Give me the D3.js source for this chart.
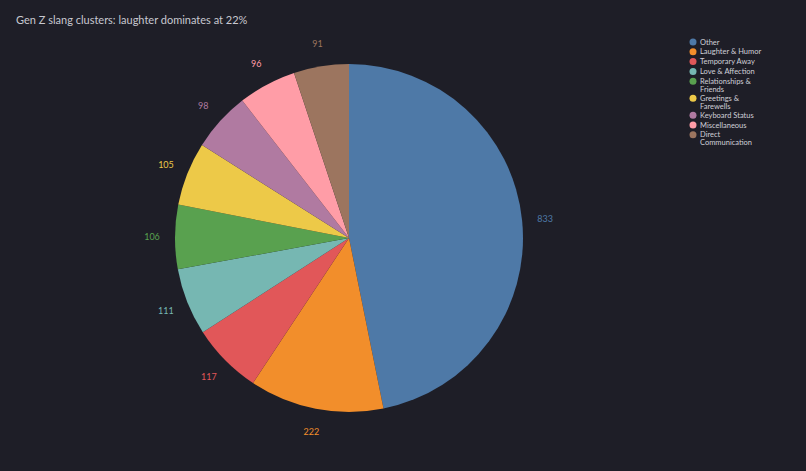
<!DOCTYPE html><html><head><meta charset="utf-8">
<script src="https://cdn.jsdelivr.net/npm/d3@7"></script>
<style>body{margin:0;background:#1e1e27;}svg{display:block;font-family:Lato,sans-serif;}</style></head><body>
<svg id="c" width="806" height="471"></svg>
<script>
const categories=["Other","Laughter & Humor","Temporary Away","Love & Affection","Relationships & Friends","Greetings & Farewells","Keyboard Status","Miscellaneous","Direct Communication"];
const legendLines=[["Other"],["Laughter & Humor"],["Temporary Away"],["Love & Affection"],["Relationships &","Friends"],["Greetings &","Farewells"],["Keyboard Status"],["Miscellaneous"],["Direct","Communication"]];
const values=[833,222,117,111,106,105,98,96,91];
const colors=["#4e79a7","#f28e2b","#e15759","#76b7b2","#59a14f","#edc948","#b07aa1","#ff9da7","#9c755f"];
const svg=d3.select("#c");
svg.append("rect").attr("width",806).attr("height",471).attr("fill","#1e1e27");
svg.append("text").attr("x",16).attr("y",24).attr("fill","#c8c8d0").attr("font-size",11).text("Gen Z slang clusters: laughter dominates at 22%");
const cx=349,cy=238,R=174,LR=197;
const data=categories.map((c,i)=>({c,v:values[i],col:colors[i]}));
const pie=d3.pie().value(d=>d.v).sort(null);
const arcs=pie(data);
const arc=d3.arc().innerRadius(0).outerRadius(R);
const g=svg.append("g").attr("transform",`translate(${cx},${cy})`);
g.selectAll("path").data(arcs).join("path").attr("d",arc).attr("fill",d=>d.data.col);
const la=d3.arc().innerRadius(LR).outerRadius(LR);
g.selectAll("text").data(arcs).join("text").attr("transform",d=>`translate(${la.centroid(d)})`)
 .attr("text-anchor","middle").attr("dy","0.35em").attr("font-size",9).attr("fill",d=>d.data.col).text(d=>d.data.v);
const lg=svg.append("g");
let y=42;
legendLines.forEach((lines,i)=>{
  lg.append("circle").attr("cx",693).attr("cy",y).attr("r",3.5).attr("fill",colors[i]);
  lines.forEach((t,j)=>lg.append("text").attr("x",700).attr("y",y+j*8).attr("dy","0.35em").attr("font-size",7.5).attr("fill","#d0d0d8").text(t));
  y+=lines.length>1?17:9.8;
});
</script></body></html>
